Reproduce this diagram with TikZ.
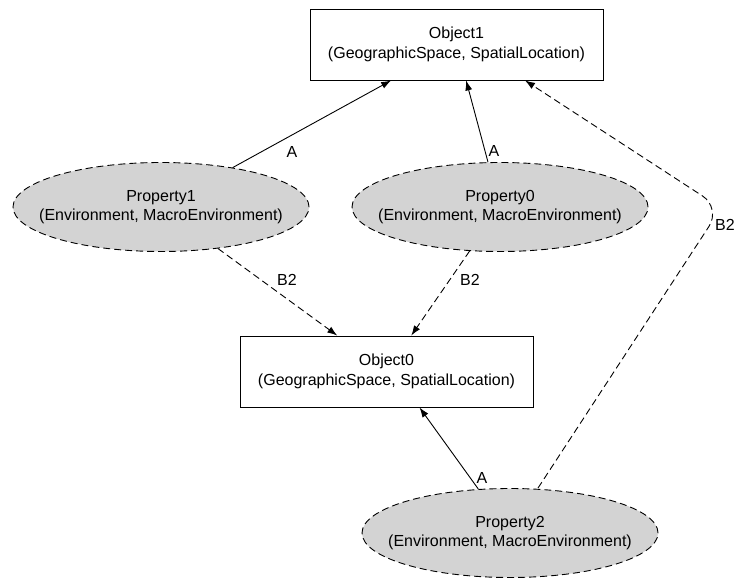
\documentclass[tikz,border=0pt]{standalone}
\usepackage{fontspec}
\setmainfont{Liberation Sans}
\usetikzlibrary{arrows.meta,shapes.geometric}
\definecolor{propgray}{HTML}{D3D3D3}
\begin{document}
\begin{tikzpicture}[x=1pt,y=1pt,
  txt/.style={font=\fontsize{16}{19.5}\selectfont, align=center, inner sep=0pt},
  objbox/.style={draw, line width=0.9pt, minimum width=293pt, minimum height=71pt,
    inner sep=0pt, txt},
  propnode/.style={ellipse, draw, line width=0.9pt, dash pattern=on 7pt off 4pt,
    fill=propgray, minimum width=296pt, minimum height=89pt, inner sep=0pt},
  proptext/.style={txt},
  link/.style={line width=0.9pt, -{Latex[length=10pt,width=7pt]}},
  dlink/.style={link, dash pattern=on 7pt off 4pt},
  elabel/.style={font=\fontsize{16}{19}\selectfont, inner sep=0pt}
]
\useasboundingbox (0,0) rectangle (735,581);

% object boxes
\node[objbox] (o1) at (456.5,536.5) {Object1\\(GeographicSpace, SpatialLocation)};
\node[objbox] (o0) at (386.5,209.5) {Object0\\(GeographicSpace, SpatialLocation)};

% property ellipses
\node[propnode, label={[proptext]center:Property1\\(Environment, MacroEnvironment)}] (p1) at (161,374) {};
\node[propnode, label={[proptext]center:Property0\\(Environment, MacroEnvironment)}] (p0) at (500,374) {};
\node[propnode, label={[proptext]center:Property2\\(Environment, MacroEnvironment)}] (p2) at (510,48) {};

% bend point of the long B2 edge
\coordinate (bend) at (721,373);

% edges
\draw[link] (p1) -- (o1);
\draw[link] (p0) -- (o1);
\draw[dlink] (p1) -- (o0);
\draw[dlink] (p0) -- (o0);
\draw[link] (p2) -- ([xshift=33pt]o0.south);
\draw[dlink, rounded corners=22pt] ([xshift=28pt]p2.north) -- (bend) -- ([xshift=68.5pt]o1.south);

% edge labels
\node[elabel] (la1) at (292,429) {A};
\node[elabel] (la0) at (494,430) {A};
\node[elabel] (lb1) at (287,301) {B2};
\node[elabel] (lb0) at (470,301) {B2};
\node[elabel] (la2) at (482,103) {A};
\node[elabel] (lb2) at (725,356) {B2};
\end{tikzpicture}
\end{document}
